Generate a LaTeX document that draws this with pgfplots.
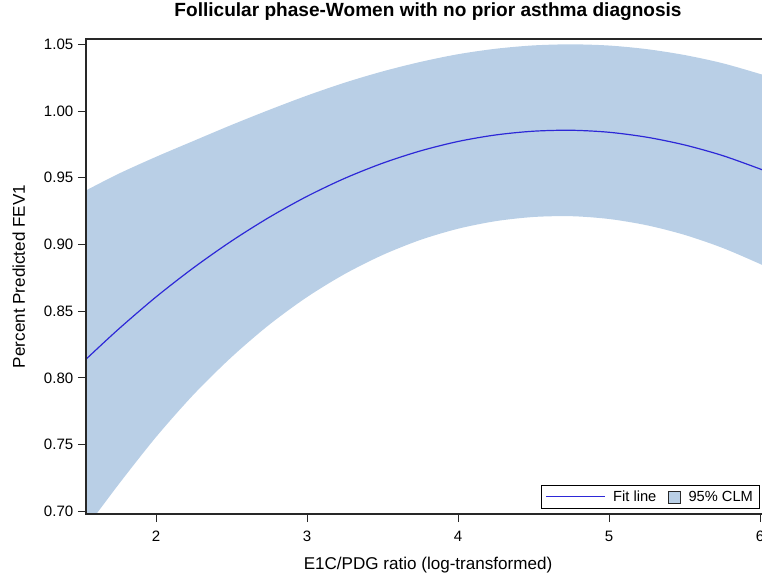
\documentclass[border=0pt]{standalone}
\usepackage{fontspec}
\setmainfont{Liberation Sans}
\usepackage{pgfplots}
\pgfplotsset{compat=1.18}
\usepackage{pgfplotstable}
\usepgfplotslibrary{fillbetween}

\definecolor{bandfill}{RGB}{185,207,230}
\definecolor{fitline}{RGB}{45,40,215}
\definecolor{frame}{RGB}{40,40,40}

\pgfplotsset{
  fitlegend/.style={legend image code/.code={\draw[##1] (0pt,0pt) -- (44pt,0pt);}},
  clmlegend/.style={legend image code/.code={\draw[##1] (0pt,-4.5pt) rectangle (9pt,4.5pt);}},
}

% x, fitted value, lower and upper 95% confidence limit
\pgfplotstableread{
x      fit     lo      up
1.536  0.8140  0.6875  0.9405
1.75   0.8364  0.7199  0.9529
2.0    0.8607  0.7557  0.9657
2.25   0.8827  0.7877  0.9777
2.5    0.9026  0.8156  0.9896
2.75   0.9204  0.8399  1.0009
3.0    0.9361  0.8606  1.0116
3.25   0.9496  0.8779  1.0213
3.5    0.9609  0.8921  1.0297
3.75   0.9701  0.9034  1.0368
4.0    0.9772  0.9118  1.0426
4.25   0.9821  0.9175  1.0467
4.5    0.9849  0.9206  1.0492
4.75   0.9856  0.9212  1.0500
5.0    0.9841  0.9191  1.0491
5.25   0.9804  0.9144  1.0464
5.5    0.9746  0.9072  1.0420
5.75   0.9667  0.8975  1.0359
6.0    0.9566  0.8854  1.0278
6.1    0.9520  0.8799  1.0241
}\fitdata

\begin{document}
\begin{tikzpicture}
\begin{axis}[
  at={(0,0)}, anchor=south west,
  scale only axis,
  width=513pt, height=356.25pt,
  xmin=1.536, xmax=6.066,
  ymin=0.698, ymax=1.054,
  xtick={2,3,4,5,6},
  ytick={0.70,0.75,0.80,0.85,0.90,0.95,1.00,1.05},
  yticklabel style={/pgf/number format/.cd, fixed, fixed zerofill, precision=2},
  xticklabel style={yshift=-3pt},
  /pgf/number format/assume math mode=true,
  tick align=outside, xtick pos=left, ytick pos=left,
  major tick length=6pt,
  tick style={frame, line width=0.8pt},
  axis line style={frame, line width=0.9pt},
  axis on top,
  tick label style={font=\fontsize{11.3}{13}\selectfont},
  title={Follicular phase-Women with no prior asthma diagnosis},
  title style={at={(axis description cs:0.5,1.0295)}, anchor=base, yshift=0pt,
    font=\bfseries\fontsize{14.3}{16}\selectfont},
  xlabel={E1C/PDG ratio (log-transformed)},
  xlabel style={at={(axis description cs:0.5,-0.1158)}, anchor=base,
    font=\fontsize{12.8}{14}\selectfont},
  ylabel={Percent Predicted FEV1},
  ylabel style={at={(axis description cs:-0.0892,0.5)}, anchor=base,
    font=\fontsize{12.8}{14}\selectfont},
  legend columns=2,
  legend style={at={(1,0)}, anchor=south east, xshift=-7.5pt, yshift=3.75pt,
    draw=black, line width=0.6pt, font=\fontsize{11}{13}\selectfont,
    inner xsep=3pt, inner ysep=2pt,
    /tikz/every odd column/.append style={column sep=4pt},
    /tikz/every even column/.append style={column sep=6.5pt}},
]

\addlegendimage{fitline, line width=0.8pt, fitlegend}
\addlegendentry{Fit line}
\addlegendimage{area legend, fill=bandfill, draw=frame, line width=0.6pt, clmlegend}
\addlegendentry{95\% CLM}

\addplot[name path=up, draw=none, smooth, forget plot] table[x=x, y=up] {\fitdata};
\addplot[name path=lo, draw=none, smooth, forget plot] table[x=x, y=lo] {\fitdata};
\addplot[bandfill, forget plot] fill between[of=up and lo];
\addplot[fitline, line width=0.9pt, smooth, forget plot] table[x=x, y=fit] {\fitdata};

\end{axis}
\pgfresetboundingbox
\useasboundingbox (-64.5pt,-45.75pt) rectangle (507pt,385.5pt);
\end{tikzpicture}
\end{document}
